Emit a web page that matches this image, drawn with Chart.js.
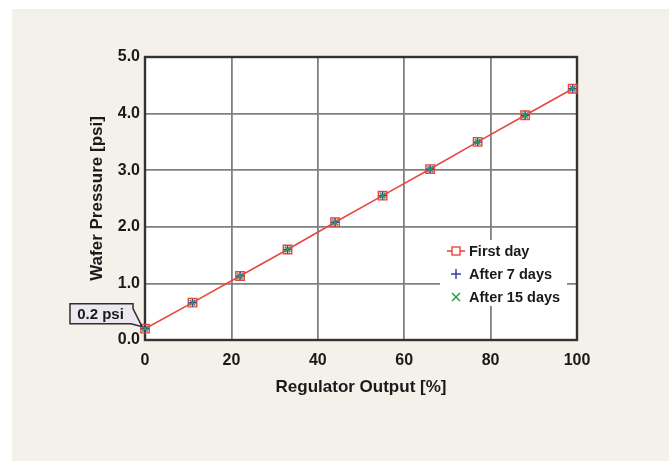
<!DOCTYPE html>
<html>
<head>
<meta charset="utf-8">
<title>Wafer Pressure vs Regulator Output</title>
<script src="https://cdn.jsdelivr.net/npm/chart.js@4.4.1/dist/chart.umd.min.js"></script>
<style>
    html, body { margin: 0; padding: 0; background: #ffffff; }
    #wrap { position: relative; width: 669px; height: 461px; overflow: hidden; }
    #paper { position: absolute; left: 12px; top: 9px; right: 0; bottom: 0; background: #f4f1ea; }
    #chart { position: absolute; left: 0; top: 0; }
</style>
</head>
<body>
<div id="wrap">
    <div id="paper"></div>
    <canvas id="chart" width="669" height="461"></canvas>
</div>
<script>
(function() {
    'use strict';

    // regulator output [%]
    const outputPct = [0, 11, 22, 33, 44, 55, 66, 77, 88, 99];
    // wafer pressure [psi]
    const firstDay = [0.20, 0.66, 1.13, 1.60, 2.08, 2.55, 3.02, 3.50, 3.97, 4.44];
    const after7Days = [0.20, 0.66, 1.13, 1.60, 2.08, 2.55, 3.02, 3.50, 3.97, 4.44];
    const after15Days = [0.20, 0.66, 1.13, 1.60, 2.08, 2.55, 3.02, 3.50, 3.97, 4.44];
    const seriesLabels = ['First day', 'After 7 days', 'After 15 days'];
    const calloutText = '0.2 psi';

    const FONT = '"Liberation Sans", Arial, Helvetica, sans-serif';
    const INK = '#1a1a1a';
    const RED = '#e8473d';
    const BLUE = '#3a3fae';
    const GREEN = '#2f9a4c';
    const GRID = '#808080';

    const toPoints = ys => outputPct.map((x, i) => ({ x: x, y: ys[i] }));

    // white plot, dark frame
    const framePlugin = {
        id: 'frame',
        beforeDraw(chart) {
            const a = chart.chartArea, ctx = chart.ctx;
            ctx.save();
            ctx.fillStyle = '#ffffff';
            ctx.fillRect(a.left, a.top, a.right - a.left, a.bottom - a.top);
            ctx.restore();
        },
        beforeDatasetsDraw(chart) {
            const a = chart.chartArea, ctx = chart.ctx;
            ctx.save();
            ctx.strokeStyle = '#333333';
            ctx.lineWidth = 2.4;
            ctx.strokeRect(a.left, a.top, a.right - a.left, a.bottom - a.top);
            ctx.restore();
        }
    };

    // legend box inside the plot, lower right
    const boxLegend = {
        id: 'boxLegend',
        afterDatasetsDraw(chart) {
            const a = chart.chartArea, ctx = chart.ctx;
            const bx = a.right - 137, by = a.top + 183, bw = 127, bh = 66;
            ctx.save();
            ctx.fillStyle = '#ffffff';
            ctx.fillRect(bx, by, bw, bh);
            ctx.font = 'bold 14.5px ' + FONT;
            ctx.textBaseline = 'middle';
            chart.data.datasets.forEach((ds, i) => {
                const cy = by + 11 + i * 23, mx = bx + 16;
                if (ds.showLine) {
                    ctx.strokeStyle = ds.borderColor;
                    ctx.lineWidth = ds.borderWidth;
                    ctx.beginPath();
                    ctx.moveTo(mx - 9, cy);
                    ctx.lineTo(mx + 9, cy);
                    ctx.stroke();
                }
                ctx.fillStyle = '#ffffff';
                ctx.strokeStyle = ds.pointBorderColor;
                ctx.lineWidth = ds.pointBorderWidth;
                ctx.beginPath();
                if (ds.pointStyle === 'rect') {
                    ctx.fillRect(mx - 4, cy - 4, 8, 8);
                    ctx.strokeRect(mx - 4, cy - 4, 8, 8);
                } else if (ds.pointStyle === 'cross') {
                    ctx.moveTo(mx - 5, cy); ctx.lineTo(mx + 5, cy);
                    ctx.moveTo(mx, cy - 5); ctx.lineTo(mx, cy + 5);
                    ctx.stroke();
                } else {
                    ctx.moveTo(mx - 4, cy - 4); ctx.lineTo(mx + 4, cy + 4);
                    ctx.moveTo(mx + 4, cy - 4); ctx.lineTo(mx - 4, cy + 4);
                    ctx.stroke();
                }
                ctx.fillStyle = INK;
                ctx.fillText(ds.label, bx + 29, cy + 1);
            });
            ctx.restore();
        }
    };

    // "0.2 psi" callout pointing at the first reading
    const callout = {
        id: 'callout',
        afterDraw(chart) {
            const xs = chart.scales.x, ys = chart.scales.y, ctx = chart.ctx;
            const px = xs.getPixelForValue(outputPct[0]);
            const py = ys.getPixelForValue(firstDay[0]);
            const l = px - 75, r = px - 12, t = py - 25, b = py - 5;
            ctx.save();
            ctx.beginPath();
            ctx.moveTo(l, t);
            ctx.lineTo(r, t);
            ctx.lineTo(r, t + 5);
            ctx.lineTo(px - 3, py - 2);
            ctx.lineTo(r - 2, b);
            ctx.lineTo(l, b);
            ctx.closePath();
            ctx.fillStyle = '#ebe9ef';
            ctx.fill();
            ctx.strokeStyle = '#2e2e2e';
            ctx.lineWidth = 1.5;
            ctx.stroke();
            ctx.fillStyle = INK;
            ctx.font = 'bold 15px ' + FONT;
            ctx.textAlign = 'center';
            ctx.textBaseline = 'middle';
            ctx.fillText(calloutText, (l + r) / 2 - 1, (t + b) / 2 + 1);
            ctx.restore();
        }
    };

    const tickFont = { family: FONT, size: 16, weight: 'bold' };
    const titleFont = { family: FONT, size: 17, weight: 'bold' };

    new Chart(document.getElementById('chart'), {
        type: 'scatter',
        data: {
            datasets: [
                {
                    label: seriesLabels[0],
                    data: toPoints(firstDay),
                    showLine: true,
                    borderColor: RED,
                    borderWidth: 1.6,
                    pointStyle: 'rect',
                    pointRadius: 6,
                    pointBorderColor: RED,
                    pointBackgroundColor: 'rgba(255,255,255,0)',
                    pointBorderWidth: 1.4,
                    clip: false,
                    order: 3
                },
                {
                    label: seriesLabels[1],
                    data: toPoints(after7Days),
                    showLine: false,
                    borderColor: BLUE,
                    pointStyle: 'cross',
                    pointRadius: 4,
                    pointBorderColor: BLUE,
                    pointBorderWidth: 1.5,
                    clip: false,
                    order: 2
                },
                {
                    label: seriesLabels[2],
                    data: toPoints(after15Days),
                    showLine: false,
                    borderColor: GREEN,
                    pointStyle: 'crossRot',
                    pointRadius: 4,
                    pointBorderColor: GREEN,
                    pointBorderWidth: 1.5,
                    clip: false,
                    order: 1
                }
            ]
        },
        options: {
            responsive: false,
            animation: false,
            layout: { padding: { left: 0, top: 57, right: 92, bottom: 0 } },
            plugins: {
                legend: { display: false },
                tooltip: { enabled: false }
            },
            scales: {
                x: {
                    type: 'linear',
                    min: 0,
                    max: 100,
                    ticks: { stepSize: 20, color: INK, font: tickFont, padding: 11, maxRotation: 0 },
                    grid: { color: GRID, lineWidth: 1.8, drawTicks: false },
                    border: { display: false },
                    title: { display: true, text: 'Regulator Output [%]', color: INK, font: titleFont, padding: { top: 0, bottom: 63 } },
                    afterFit(scale) { scale.height = 121; }
                },
                y: {
                    min: 0,
                    max: 5,
                    ticks: { stepSize: 1, color: INK, font: tickFont, padding: 5, callback: v => Number(v).toFixed(1) },
                    grid: { color: GRID, lineWidth: 1.8, drawTicks: false },
                    border: { display: false },
                    title: { display: true, text: 'Wafer Pressure [psi]', color: INK, font: titleFont, padding: { top: 87, bottom: 0 } },
                    afterFit(scale) { scale.width = 145; }
                }
            }
        },
        plugins: [framePlugin, boxLegend, callout]
    });
})();
</script>
</body>
</html>
